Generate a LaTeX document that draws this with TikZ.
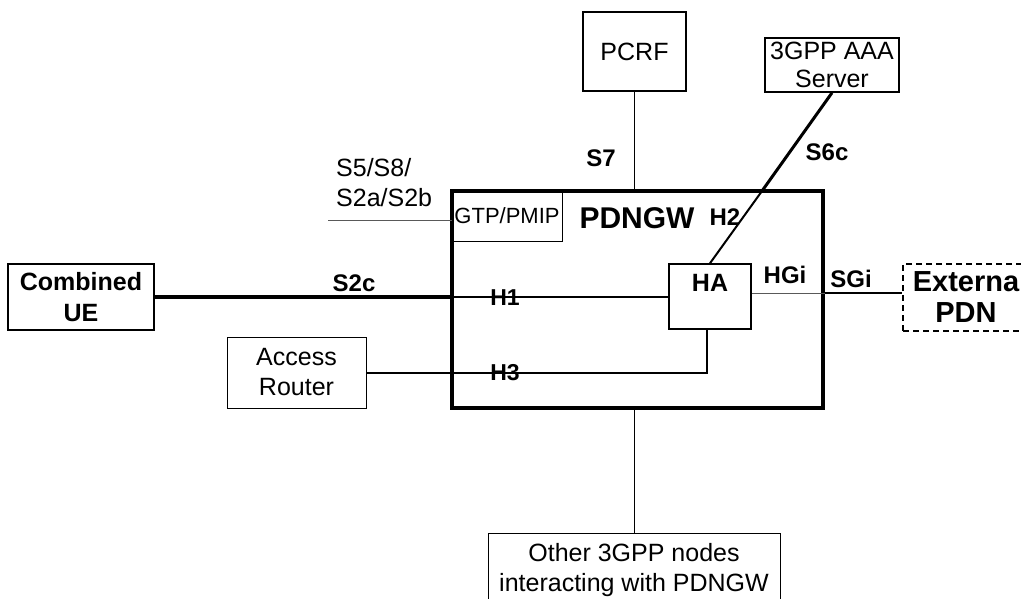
\documentclass[tikz,border=0pt]{standalone}
\usepackage{fontspec}
\setmainfont{Liberation Sans}
\begin{document}
\begin{tikzpicture}[x=1pt,y=-1pt,
  lbl/.style={font=\bfseries\fontsize{24}{28}\selectfont, inner sep=0pt},
  rtxt/.style={font=\fontsize{25}{30}\selectfont},
  box/.style={draw, inner sep=0pt, align=center},
  thinline/.style={line width=0.8pt},
  midline/.style={line width=1.5pt}]
\useasboundingbox (0,0) rectangle (1021,599);
\begin{scope}
\clip (0,0) rectangle (1021,599);
% main gateway box
\node[box, line width=3.5pt, minimum width=371pt, minimum height=217pt] (pdn) at (637.5,299.5) {};
\node[box, line width=0.8pt, minimum width=110pt, minimum height=50pt, rtxt, font=\fontsize{22}{26}\selectfont] (gtp) at (507,216) {GTP/PMIP};
\node[box, line width=1.5pt, minimum width=82pt, minimum height=65pt] (ha) at (710,296.5) {};
\node[lbl, font=\bfseries\fontsize{25}{28}\selectfont] at (710,283) {HA};
\node[lbl, font=\bfseries\fontsize{30}{34}\selectfont] (pdnlbl) at (637,218) {PDNGW};
% outer nodes
\node[box, line width=2pt, minimum width=146pt, minimum height=66pt, font=\bfseries\fontsize{25}{31}\selectfont] (ue) at (81,297) {Combined\\UE};
\node[box, line width=0.8pt, minimum width=139pt, minimum height=71pt, rtxt] (ar) at (296.5,372.5) {Access\\Router};
\node[box, line width=1.5pt, minimum width=103pt, minimum height=79pt, rtxt] (pcrf) at (634.5,51.5) {PCRF};
\node[box, line width=1.5pt, minimum width=134pt, minimum height=54pt, font=\fontsize{25}{28}\selectfont] (aaa) at (832,65) {3GPP AAA\\Server};
\node[box, dash pattern=on 6pt off 4pt, line width=1.5pt, minimum width=126pt, minimum height=67pt, font=\bfseries\fontsize{29}{31}\selectfont] (ext) at (966,297.5) {Externa\\PDN};
\node[box, line width=0.8pt, minimum width=292pt, minimum height=80pt, anchor=north] (oth) at (634,533) {};
\node[rtxt, align=center, inner sep=0pt, font=\fontsize{25}{30}\selectfont] (othtxt) at (634,570) {Other 3GPP nodes\\interacting with PDNGW};
\end{scope}
% connectors
\draw[line width=4.5pt] (ue.east) -- (ue.east -| pdn.west);
\draw[midline] (ha.west |- 0,297) coordinate (h1e) -- (h1e -| pdn.west);
\coordinate (h3c) at (707,373);
\draw[midline] (ar.east |- h3c) -- (h3c) -- (h3c |- ha.south);
\coordinate (s5end) at (328,220);
\draw[thinline, gray!70!black] (s5end) -- (s5end -| gtp.west);
\draw[thinline] (pcrf.south) -- (pcrf.south |- pdn.north);
\coordinate (h2x) at (762,191);
\draw[line width=2pt] (ha.north) -- (h2x);
\draw[line width=3pt] (h2x) -- (aaa.south);
\coordinate (hgi) at (ha.east |- 0,293);
\draw[thinline, gray!70!black] (hgi) -- (hgi -| pdn.east);
\draw[line width=2.2pt] (hgi -| pdn.east) -- (hgi -| ext.west);
\draw[thinline] (pdn.south -| oth.north) -- (oth.north);
% labels
\node[lbl] (s2c) at (354,283) {S2c};
\node[lbl, font=\bfseries\fontsize{23}{26}\selectfont] (h1) at (505,298) {H1};
\node[lbl, font=\bfseries\fontsize{23}{26}\selectfont] (h3) at (505,373) {H3};
\node[lbl] (h2) at (725,217) {H2};
\node[lbl] (hgil) at (785,275) {HGi};
\node[lbl] (sgi) at (851,279) {SGi};
\node[lbl] (s7) at (601,158) {S7};
\node[lbl] (s6c) at (827,152) {S6c};
\node[rtxt, align=left, anchor=west, inner sep=0pt] (s5) at (336,183) {S5/S8/\\S2a/S2b};
\end{tikzpicture}
\end{document}
